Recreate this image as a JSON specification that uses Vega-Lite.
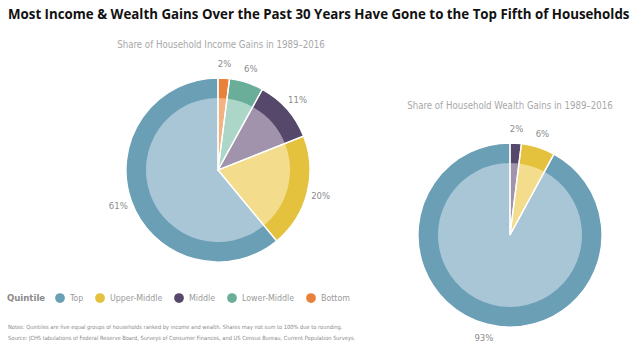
{
  "$schema": "https://vega.github.io/schema/vega-lite/v6.json",
  "background": "white",
  "padding": {"left": 0, "top": 8, "right": 0, "bottom": 0},
  "title": {
    "text": "Most Income & Wealth Gains Over the Past 30 Years Have Gone to the Top Fifth of Households",
    "font": "Open Sans", "fontSize": 13.3, "fontWeight": "bold", "color": "#111111",
    "anchor": "start", "dx": 8, "offset": 18
  },
  "datasets": {
    "income": [
      {"quintile": "Bottom", "share": 2, "order": 1, "label": "2%"},
      {"quintile": "Lower-Middle", "share": 6, "order": 2, "label": "6%"},
      {"quintile": "Middle", "share": 11, "order": 3, "label": "11%"},
      {"quintile": "Upper-Middle", "share": 20, "order": 4, "label": "20%"},
      {"quintile": "Top", "share": 61, "order": 5, "label": "61%"}
    ],
    "wealth": [
      {"quintile": "Middle", "share": 2, "order": 3, "label": "2%"},
      {"quintile": "Upper-Middle", "share": 6, "order": 4, "label": "6%"},
      {"quintile": "Top", "share": 93, "order": 5, "label": "93%"}
    ]
  },
  "bounds": "flush",
  "resolve": {"scale": {"color": "shared", "fill": "shared", "theta": "independent"}, "legend": {"color": "shared"}},
  "vconcat": [
    {
      "title": {
        "text": [
          "Notes: Quintiles are five equal groups of households ranked by income and wealth. Shares may not sum to 100% due to rounding.",
          "Source: JCHS tabulations of Federal Reserve Board, Surveys of Consumer Finances, and US Census Bureau, Current Population Surveys."
        ],
        "orient": "bottom", "anchor": "start", "dx": 8, "offset": -21,
        "font": "Liberation Sans Narrow, DejaVu Sans Condensed, Roboto, sans-serif",
        "fontSize": 5.7, "fontWeight": "normal", "color": "#8a8a8a", "lineHeight": 11
      },
      "bounds": "flush",
      "spacing": 0,
      "resolve": {"scale": {"color": "shared", "fill": "shared", "theta": "independent"}, "legend": {"color": "shared"}},
      "hconcat": [
        {
          "width": 436, "height": 90,
          "data": {"name": "income"},
          "title": {
            "text": "Share of Household Income Gains in 1989–2016",
            "anchor": "middle", "dx": 3, "offset": 10,
            "font": "Liberation Sans Narrow, DejaVu Sans Condensed, Roboto, sans-serif",
            "fontSize": 9.6, "fontWeight": "normal", "color": "#a8a8a8"
          },
          "layer": [
            {
              "mark": {"type": "arc", "outerRadius": 92},
              "encoding": {
                "theta": {"field": "share", "type": "quantitative", "stack": true},
                "order": {"field": "order", "type": "quantitative"},
                "color": {
                  "field": "quintile", "type": "nominal",
                  "scale": {"domain": ["Top", "Upper-Middle", "Middle", "Lower-Middle", "Bottom"],
                            "range": ["#6b9fb6", "#e4c23e", "#56486b", "#6aad99", "#e8823a"]},
                  "legend": {
                    "orient": "none", "legendX": 7, "legendY": 168,
                    "direction": "horizontal", "title": "Quintile", "titleOrient": "left",
                    "titleFont": "Liberation Sans Narrow, DejaVu Sans Condensed, Roboto, sans-serif",
                    "titleFontSize": 9.5, "titleFontWeight": "bold", "titleColor": "#8a8a8a", "titlePadding": 9,
                    "labelFont": "Liberation Sans Narrow, DejaVu Sans Condensed, Roboto, sans-serif",
                    "labelFontSize": 8.8, "labelColor": "#9a9a9a", "labelOffset": 5,
                    "symbolType": "circle", "symbolSize": 95, "symbolStrokeWidth": 0, "columnPadding": 11
                  }
                }
              }
            },
            {
              "mark": {"type": "arc", "outerRadius": 72},
              "encoding": {
                "theta": {"field": "share", "type": "quantitative", "stack": true},
                "order": {"field": "order", "type": "quantitative"},
                "fill": {
                  "field": "quintile", "type": "nominal",
                  "scale": {"domain": ["Top", "Upper-Middle", "Middle", "Lower-Middle", "Bottom"],
                            "range": ["#a8c6d5", "#f3dc8b", "#a093ab", "#acd6c8", "#f2b282"]},
                  "legend": null
                }
              }
            },
            {
              "mark": {"type": "arc", "outerRadius": 92, "fillOpacity": 0, "stroke": "white", "strokeWidth": 1.3},
              "encoding": {
                "theta": {"field": "share", "type": "quantitative", "stack": true},
                "order": {"field": "order", "type": "quantitative"},
                "detail": {"field": "quintile"}
              }
            },
            {
              "mark": {"type": "text", "radius": 106, "align": "center", "baseline": "middle",
                       "font": "Liberation Sans Narrow, DejaVu Sans Condensed, Roboto, sans-serif",
                       "fontSize": 9.5, "color": "#8c8c8c"},
              "encoding": {
                "theta": {"field": "share", "type": "quantitative", "stack": true},
                "order": {"field": "order", "type": "quantitative"},
                "detail": {"field": "quintile"},
                "text": {"field": "label"}
              }
            }
          ]
        },
        {
          "width": 148, "height": 220,
          "data": {"name": "wealth"},
          "title": {
            "text": "Share of Household Wealth Gains in 1989–2016",
            "anchor": "middle", "offset": 14,
            "font": "Liberation Sans Narrow, DejaVu Sans Condensed, Roboto, sans-serif",
            "fontSize": 9.6, "fontWeight": "normal", "color": "#a8a8a8"
          },
          "layer": [
            {
              "mark": {"type": "arc", "outerRadius": 92},
              "encoding": {
                "theta": {"field": "share", "type": "quantitative", "stack": true},
                "order": {"field": "order", "type": "quantitative"},
                "color": {"field": "quintile", "type": "nominal"}
              }
            },
            {
              "mark": {"type": "arc", "outerRadius": 72},
              "encoding": {
                "theta": {"field": "share", "type": "quantitative", "stack": true},
                "order": {"field": "order", "type": "quantitative"},
                "fill": {"field": "quintile", "type": "nominal", "legend": null}
              }
            },
            {
              "mark": {"type": "arc", "outerRadius": 92, "fillOpacity": 0, "stroke": "white", "strokeWidth": 1.3},
              "encoding": {
                "theta": {"field": "share", "type": "quantitative", "stack": true},
                "order": {"field": "order", "type": "quantitative"},
                "detail": {"field": "quintile"}
              }
            },
            {
              "mark": {"type": "text", "radius": 106, "align": "center", "baseline": "middle",
                       "font": "Liberation Sans Narrow, DejaVu Sans Condensed, Roboto, sans-serif",
                       "fontSize": 9.5, "color": "#8c8c8c"},
              "encoding": {
                "theta": {"field": "share", "type": "quantitative", "stack": true},
                "order": {"field": "order", "type": "quantitative"},
                "detail": {"field": "quintile"},
                "text": {"field": "label"}
              }
            }
          ]
        }
      ]
    }
  ],
  "config": {"view": {"stroke": null}}
}
